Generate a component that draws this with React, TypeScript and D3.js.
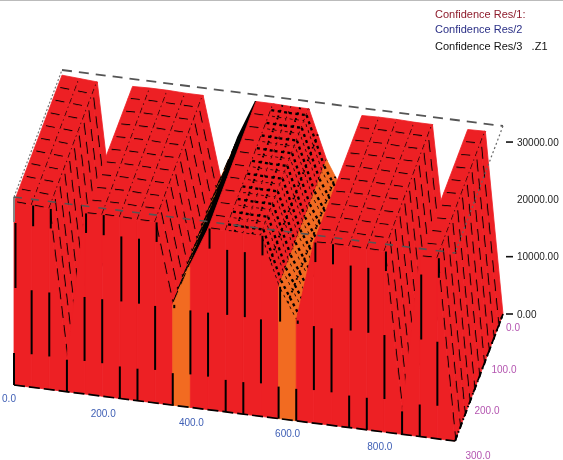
import React from "react";
import * as d3 from "d3";

const xGrid = [0, 40, 80, 120, 160, 200, 240, 280, 320, 360, 400, 440, 480, 520, 560, 600, 640, 680, 720, 760, 800, 840, 880, 920, 960, 1000];
const zProfile = [31900, 31700, 31500, 6000, 31500, 31600, 31600, 31500, 31500, 17500, 25000, 31600, 31600, 31500, 31500, 23000, 17500, 31500, 31600, 31600, 31500, 31500, 4000, 31400, 31500, 0];
const yRows = [0, 30, 60, 90, 120, 150, 180, 210, 240, 270, 300];
const zTicks = [0, 10000, 20000, 30000];
const zTickLabels = ["0.00", "10000.00", "20000.00", "30000.00"];
const xTickValues = [0, 200, 400, 600, 800];
const xTickLabels = ["0.0", "200.0", "400.0", "600.0", "800.0"];
const yTickValues = [0, 100, 200, 300];
const yTickLabels = ["0.0", "100.0", "200.0", "300.0"];
const legendLabels = ["Confidence Res/1:", "Confidence Res/2", "Confidence Res/3 \u00A0\u00A0.Z1"];
const legendColors = ["#8e1c2c", "#2a2f86", "#111111"];

const RED = "#ED2024";
const ORANGE = "#F26B21";
const FRONT = 300;
const BACK = 0;

const uScale = d3.scaleLinear().domain([0, 1000]).range([0, 1]);
const vScale = d3.scaleLinear().domain([FRONT, BACK]).range([0, 1]);
const wScale = d3.scaleLinear().domain([0, 32800]).range([0, 1]);

function project(x: number, y: number, z: number): [number, number] {
  const u = uScale(x), v = vScale(y), w = wScale(z);
  return [14 + 441 * u + 48 * v, 385 + 56 * u - 127 * v - 188 * w];
}
const seg = d3.line();

const wallSetA = [[33, 97], [161, 195]];
const wallSetB = [[0, 32], [97, 162]];
const wallPick = ["B", "A", "A", "B", "A", "A", "B", "B", "A", "B", "A", "A", "B", "B", "A", "B", "B", "A", "A", "B", "B", "A", "B", "B", "A", "A"];

function App() {
  const surface: React.ReactNode[] = [];
  const inBand = (z: number) => z >= 15000 && z <= 26000;
  const mid = (p: [number, number], q: [number, number]): [number, number] => [(p[0] + q[0]) / 2, (p[1] + q[1]) / 2];
  for (let r = 0; r < yRows.length - 1; r++) {
    const yBack = yRows[r], yFront = yRows[r + 1];
    for (let i = 0; i < xGrid.length - 1; i++) {
      const x0 = xGrid[i], x1 = xGrid[i + 1], z0 = zProfile[i], z1 = zProfile[i + 1];
      const a = project(x0, yFront, z0), b = project(x1, yFront, z1), c = project(x1, yBack, z1), d = project(x0, yBack, z0);
      const cross = (b[0] - a[0]) * (d[1] - a[1]) - (b[1] - a[1]) * (d[0] - a[0]);
      if (cross > 0) continue;
      const fill = inBand(z0) && inBand(z1) ? ORANGE : RED;
      const dense = x0 >= 480 && x0 < 640;
      const steep = Math.abs(z1 - z0) > 5000;
      const ridgeEdge = x0 === 400;
      const uDash = dense ? "3 3.5" : steep ? "12 7" : "9 8";
      const vDash = dense ? "2.5 3.5" : "6 3 1.5 3";
      const w = dense ? 2.3 : 2.7;
      surface.push(
        <g key={`${r}-${i}`}>
          <path d={seg([a, b, c, d])! + "Z"} fill={fill} stroke={ridgeEdge ? "#000" : fill} strokeWidth={ridgeEdge ? 2.4 : 0.8} />
          <path d={seg([a, b])!} fill="none" stroke="#000" strokeWidth={w} strokeDasharray={uDash} strokeDashoffset={-3} />
          {dense && (
            <>
              <path d={seg([mid(a, d), mid(b, c)])!} fill="none" stroke="#000" strokeWidth={w} strokeDasharray="3 3.5" />
              <path d={seg([mid(a, b), mid(c, d)])!} fill="none" stroke="#000" strokeWidth={1.9} strokeDasharray="2.5 3.5" />
            </>
          )}
          <path d={seg([b, c])!} fill="none" stroke="#000" strokeWidth={2} strokeDasharray={vDash} />
        </g>
      );
    }
  }

  const wall = xGrid.slice(0, -1).map((x, i) => {
    const a = project(x, FRONT, 0), b = project(xGrid[i + 1], FRONT, 0), c = project(xGrid[i + 1], FRONT, zProfile[i + 1]), d = project(x, FRONT, zProfile[i]);
    const fill = inBand(zProfile[i]) && inBand(zProfile[i + 1]) ? ORANGE : RED;
    return <path key={x} d={seg([a, b, c, d])! + "Z"} fill={fill} stroke={fill} strokeWidth={0.8} />;
  });

  const wallLines = xGrid.map((x, i) => {
    const base = project(x, FRONT, 0), top = project(x, FRONT, zProfile[i]);
    const h = base[1] - top[1];
    const set = wallPick[i] === "A" ? wallSetA : wallSetB;
    return set.filter(([s]) => s < h).map(([s, e]) => (
      <line key={`${x}-${s}`} x1={base[0] + (s > 90 ? 1.5 : 0)} x2={base[0] + (s > 90 ? 1.5 : 0)} y1={base[1] - s} y2={base[1] - Math.min(e, h)} stroke="#000" strokeWidth={2} />
    ));
  });

  const P = project;
  const zTop = 32800;
  const xNudge = [[-5, 13], [1, 17], [1, 15], [9, 15], [13, 17]];
  const yNudge = [[10, 13], [17, 13], [16, 12], [23, 14]];

  return (
    <svg width={563} height={460} viewBox="0 0 563 460"
      style={{ position: "absolute", left: 0, top: 0, background: "#fff", filter: "blur(0.45px)" }}
      fontFamily="'Liberation Sans', Arial, sans-serif">
      <line x1={0} x2={563} y1={0.5} y2={0.5} stroke="#bbb" />
      {legendLabels.map((t, i) => (
        <text key={t} x={435} y={[18, 33, 50][i]} fontSize={11} fill={legendColors[i]}>{t}</text>
      ))}

      <path d={seg([P(0, FRONT, zTop), P(0, BACK, zTop)])!} stroke="#777" strokeWidth={1.2} strokeDasharray="2 2" fill="none" />
      <path d={seg([P(0, BACK, zTop), P(1000, BACK, zTop)])!} stroke="#555" strokeWidth={1.8} strokeDasharray="10 7" fill="none" />

      {surface}
      {wall}
      {wallLines}

      <line x1={14} x2={14} y1={197} y2={222} stroke="#888" strokeWidth={2} />
      <path d={seg([P(0, FRONT, zTop), P(1000, FRONT, zTop)])!} stroke="#555" strokeWidth={1.6} strokeDasharray="8 9" fill="none" />
      <path d={seg([P(1000, BACK, zTop), P(1000, FRONT, zTop)])!} stroke="#666" strokeWidth={1.2} strokeDasharray="2 2.5" fill="none" />
      <path d={seg([P(0, FRONT, 0), P(1000, FRONT, 0)])!} stroke="#000" strokeWidth={1.7} strokeDasharray="11 4" fill="none" />
      <path d={seg([P(1000, FRONT, 0), P(1000, BACK, 0)])!} stroke="#000" strokeWidth={1.7} strokeDasharray="7 6" fill="none" />

      {zTicks.map((z, i) => {
        const p = P(1000, BACK, z);
        return (
          <g key={z}>
            {z !== 20000 && <line x1={p[0] + 3} x2={p[0] + 10} y1={p[1]} y2={p[1]} stroke="#111" strokeWidth={1.6} />}
            <text x={p[0] + 14} y={p[1] + 3.5} fontSize={10} fill="#222">{zTickLabels[i]}</text>
          </g>
        );
      })}
      {xTickValues.map((x, i) => {
        const p = P(x, FRONT, 0);
        return <text key={x} x={p[0] + xNudge[i][0]} y={p[1] + xNudge[i][1] + 3.5} fontSize={10} textAnchor="middle" fill="#3f5fb5">{xTickLabels[i]}</text>;
      })}
      {yTickValues.map((y, i) => {
        const p = P(1000, y, 0);
        return <text key={y} x={p[0] + yNudge[i][0]} y={p[1] + yNudge[i][1] + 3.5} fontSize={10} textAnchor="middle" fill="#b455b0">{yTickLabels[i]}</text>;
      })}
    </svg>
  );
}

export default App;
